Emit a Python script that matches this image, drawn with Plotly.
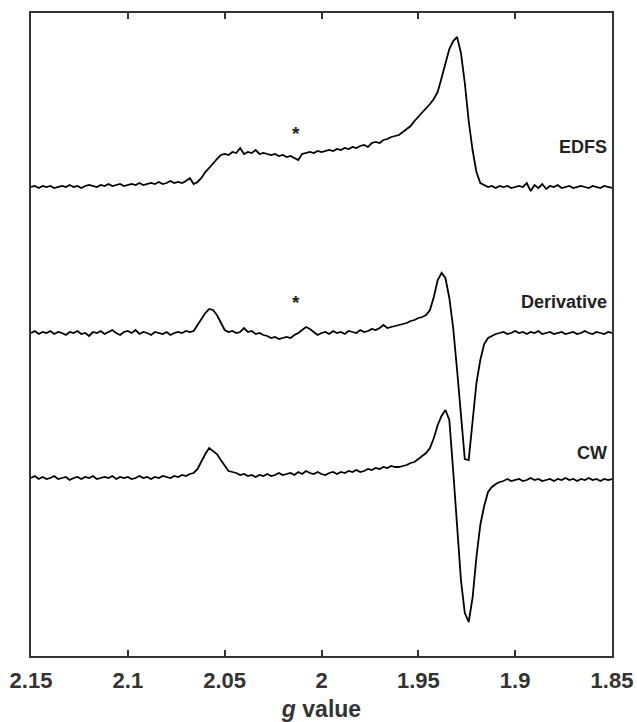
import plotly.graph_objects as go

# g-value sampling grid (shared by the three spectra)
g_values = [
    2.150, 2.148, 2.146, 2.144, 2.142, 2.140, 2.138, 2.136, 2.134, 2.132,
    2.130, 2.128, 2.126, 2.124, 2.122, 2.120, 2.118, 2.116, 2.114, 2.112,
    2.110, 2.108, 2.106, 2.104, 2.102, 2.100, 2.098, 2.096, 2.094, 2.092,
    2.090, 2.088, 2.086, 2.084, 2.082, 2.080, 2.078, 2.076, 2.074, 2.072,
    2.070, 2.068, 2.066, 2.064, 2.062, 2.060, 2.058, 2.056, 2.054, 2.052,
    2.050, 2.048, 2.046, 2.044, 2.042, 2.040, 2.038, 2.036, 2.034, 2.032,
    2.030, 2.028, 2.026, 2.024, 2.022, 2.020, 2.018, 2.016, 2.014, 2.012,
    2.010, 2.008, 2.006, 2.004, 2.002, 2.000, 1.998, 1.996, 1.994, 1.992,
    1.990, 1.988, 1.986, 1.984, 1.982, 1.980, 1.978, 1.976, 1.974, 1.972,
    1.970, 1.968, 1.966, 1.964, 1.962, 1.960, 1.958, 1.956, 1.954, 1.952,
    1.950, 1.948, 1.946, 1.944, 1.942, 1.940, 1.938, 1.936, 1.934, 1.932,
    1.930, 1.928, 1.926, 1.924, 1.922, 1.920, 1.918, 1.916, 1.914, 1.912,
    1.910, 1.908, 1.906, 1.904, 1.902, 1.900, 1.898, 1.896, 1.894, 1.892,
    1.890, 1.888, 1.886, 1.884, 1.882, 1.880, 1.878, 1.876, 1.874, 1.872,
    1.870, 1.868, 1.866, 1.864, 1.862, 1.860, 1.858, 1.856, 1.854, 1.852,
    1.850,
]

# intensities (arbitrary units, each relative to its own baseline)
edfs = [
    0, 1, -1, 1, 0, 1, -1, 0, 1, 0,
    2, 0, 1, -1, 1, 2, 1, 0, 2, 1,
    3, 1, 2, 3, 1, 2, 3, 2, 4, 2,
    3, 4, 3, 5, 3, 4, 6, 4, 5, 4,
    6, 9, 3, 5, 9, 15, 19, 24, 28, 32,
    33, 32, 35, 34, 39, 33, 35, 34, 37, 33,
    34, 33, 32, 33, 31, 32, 30, 31, 29, 27,
    33, 34, 35, 34, 36, 35, 36, 37, 36, 38,
    37, 39, 38, 40, 39, 41, 42, 40, 44, 45,
    44, 47, 48, 50, 51, 52, 55, 58, 61, 66,
    70, 74, 78, 83, 88, 95, 109, 125, 138, 146,
    150, 134, 104, 66, 37, 15, 4, 2, 0, 1,
    -1, 1, 0, 1, -1, 0, 1, 0, 4, -4,
    2, -1, 3, -2, 1, 0, 2, -1, 0, 1,
    -1, 0, 1, 0, -1, 1, 0, -1, 1, 0,
    -1,
]

derivative = [
    0, 2, -1, 1, 0, 2, -1, 1, 0, -2,
    1, 0, 2, -1, 0, -3, 1, 0, 2, -1,
    1, 3, 0, -2, 1, 2, 0, 3, -1, 1,
    0, -2, 1, 0, -1, 1, -2, 0, 1, 0,
    2, 1, 2, 8, 14, 20, 24, 23, 18, 10,
    3, 1, 2, 0, 1, 5, 1, 2, -1, 0,
    -2, -3, -5, -4, -6, -5, -4, -5, -2, 0,
    3, 6, 4, 1, -2, 0, 1, -1, 2, 0,
    1, -1, 2, 1, 0, 3, 1, 2, 4, 3,
    5, 8, 5, 6, 7, 8, 9, 10, 12, 13,
    15, 16, 18, 23, 36, 53, 60, 55, 35, 5,
    -37, -83, -126, -127, -85, -50, -27, -11, -5, -3,
    -1, 0, 1, -1, 0, 2, 0, 1, -1, 1,
    0, 2, -1, 0, 1, -1, 0, 1, -1, 0,
    1, -1, 0, 2, 0, -1, 1, 0, -1, 1,
    0,
]

cw = [
    0, 2, -1, 1, -1, 0, 2, -1, 0, 1,
    -2, 0, 1, -1, 1, 0, 2, -1, 0, 1,
    0, 2, -1, 1, 0, 1, -1, 0, 2, 0,
    1, -1, 1, 0, 2, 1, 0, 2, 1, 3,
    2, 4, 5, 9, 17, 24, 30, 27, 24, 18,
    12, 7, 6, 5, 3, 4, 2, 3, 1, 3,
    2, 4, 2, 3, 5, 3, 4, 5, 3, 6,
    4, 7, 5, 4, 6, 4, 3, 5, 6, 4,
    6, 5, 7, 6, 8, 6, 7, 9, 8, 10,
    9, 11, 10, 12, 11, 11, 12, 13, 15, 16,
    19, 22, 25, 30, 40, 53, 62, 68, 58, 7,
    -45, -102, -135, -144, -120, -79, -47, -28, -14, -9,
    -6, -4, -3, -1, -3, -2, -1, -3, -2, 0,
    -2, -1, -3, -2, -1, -3, -1, -2, 0, -2,
    -1, -3, -1, -2, 0, -2, -1, -3, -1, -2,
    -1,
]

names = ["EDFS", "Derivative", "CW"]
offsets = [0, -146, -291]
label_y = [40, -115, -266]
star_y = [54, -115]
star_g = 2.013

x_tickvals = [2.15, 2.1, 2.05, 2.0, 1.95, 1.9, 1.85]
x_ticktext = ["2.15", "2.1", "2.05", "2", "1.95", "1.9", "1.85"]

FONT = "Liberation Sans, Arial, sans-serif"

fig = go.Figure()
for name, series, off in zip(names, [edfs, derivative, cw], offsets):
    fig.add_trace(go.Scatter(
        x=g_values, y=[v + off for v in series], mode="lines", name=name,
        line=dict(color="black", width=1.8), showlegend=False,
    ))

annotations = []
for name, ly in zip(names, label_y):
    annotations.append(dict(
        x=1.8515, y=ly, xref="x", yref="y", text="<b>%s</b>" % name,
        showarrow=False, xanchor="right", yanchor="middle",
        font=dict(family=FONT, size=18, color="#222"),
    ))
for sy in star_y:
    annotations.append(dict(
        x=star_g, y=sy, xref="x", yref="y", text="<b>*</b>",
        showarrow=False, xanchor="center", yanchor="middle",
        font=dict(family=FONT, size=19, color="#222"),
    ))

fig.update_layout(
    width=637, height=722,
    margin=dict(l=31, r=25, t=13, b=66),
    paper_bgcolor="white", plot_bgcolor="white",
    annotations=annotations,
    xaxis=dict(
        range=[2.15, 1.85], tickvals=x_tickvals,
        ticktext=["<b>%s</b>" % t for t in x_ticktext],
        ticks="inside", ticklen=6, tickwidth=1.5, tickcolor="#333",
        ticklabelstandoff=4, automargin=False,
        showline=True, linecolor="#333", linewidth=1.5, mirror="ticks",
        showgrid=False, zeroline=False,
        tickfont=dict(family=FONT, size=22, color="#333"),
        title=dict(text="<b><i>g</i> value</b>", standoff=11,
                   font=dict(family=FONT, size=23, color="#333")),
    ),
    yaxis=dict(
        range=[-469, 174], showticklabels=False, ticks="", automargin=False,
        showline=True, linecolor="#333", linewidth=1.5, mirror=True,
        showgrid=False, zeroline=False,
    ),
)

fig.write_html(
    "out.html",
    config={"displayModeBar": False},
    post_script="document.body.style.margin='0';document.body.style.overflow='hidden';",
)
